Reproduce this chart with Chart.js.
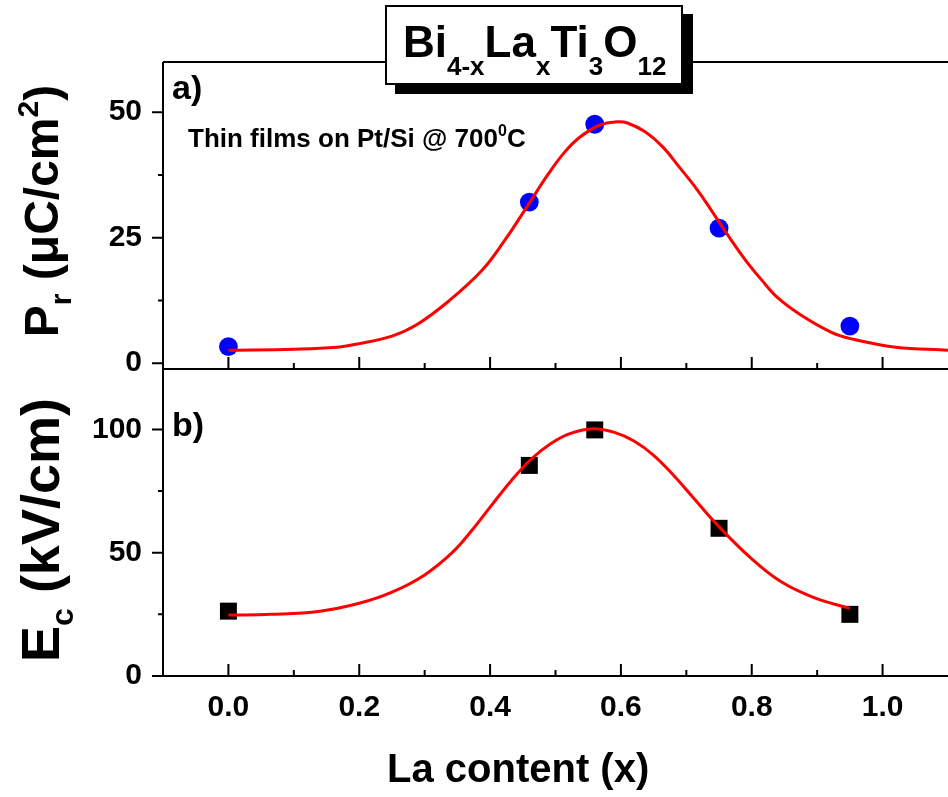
<!DOCTYPE html>
<html>
<head>
<meta charset="utf-8">
<script src="https://cdn.jsdelivr.net/npm/chart.js@4.4.1/dist/chart.umd.min.js"></script>
<style>
  body { margin: 0; background: #fff; }
  #wrap { position: relative; width: 948px; height: 797px; overflow: hidden; background: #fff; }
  #myChart { position: absolute; left: 0; top: 0; }
  .txt { position: absolute; font-family: 'Liberation Sans', Arial, sans-serif; font-weight: bold; color: #000; white-space: nowrap; line-height: 1; }
  .sub { position: relative; }
  #titleBox { position: absolute; left: 385px; top: 5px; width: 294px; height: 76px; border: 2px solid #000; background: #fff; box-shadow: 10px 9px 0 #000; }
  .rot { transform: translate(-50%, -50%) rotate(-90deg); }
</style>
</head>
<body>
<div id="wrap">
  <canvas id="myChart" width="960" height="797"></canvas>
  <div id="titleBox">
    <div class="txt" style="left:16px; top:13px; font-size:44px;">Bi<span class="sub" style="font-size:26px; top:18px;">4-x</span>La<span class="sub" style="font-size:26px; top:18px;">x</span>Ti<span class="sub" style="font-size:26px; top:18px;">3</span>O<span class="sub" style="font-size:26px; top:18px;">12</span></div>
  </div>
  <div class="txt" style="left:172px; top:70px; font-size:34px;">a)</div>
  <div class="txt" style="left:172px; top:407px; font-size:34px;">b)</div>
  <div class="txt" style="left:188px; top:125px; font-size:26px;">Thin films on Pt/Si @ 700<span class="sub" style="font-size:16px; top:-11px;">0</span>C</div>
  <div class="txt rot" style="left:42px; top:211px; font-size:48px;">P<span class="sub" style="font-size:30px; top:13px;">r</span> (μC/cm<span class="sub" style="font-size:30px; top:-20px;">2</span>)</div>
  <div class="txt rot" style="left:40px; top:530px; font-size:54px;">E<span class="sub" style="font-size:32px; top:14px;">c</span> (kV/cm)</div>
  <div class="txt" style="left:387px; top:748px; font-size:40px;">La content (x)</div>
</div>
<script>
// measured points
const laContent = [0, 0.46, 0.56, 0.75, 0.95];
const prValues = [3.3, 32.1, 47.6, 26.9, 7.4];
const ecValues = [26.3, 85.4, 99.8, 59.9, 25.0];

// fitted curves
const prFitX = [0, 0.1, 0.166, 0.2, 0.25, 0.287, 0.337, 0.387, 0.422, 0.46, 0.488, 0.513, 0.538, 0.569, 0.595, 0.609, 0.637, 0.664, 0.689, 0.717, 0.74, 0.765, 0.79, 0.815, 0.84, 0.875, 0.921, 0.951, 1.02, 1.1];
const prFitY = [2.6, 2.8, 3.2, 3.9, 5.4, 7.6, 12.4, 18.4, 24.4, 31.9, 37.5, 41.9, 45.1, 47.5, 48.1, 47.9, 46.1, 43.1, 39.1, 34.5, 30.1, 25.2, 20.6, 16.6, 13.0, 9.6, 6.2, 4.9, 3.2, 2.6];
const ecFitX = [0, 0.065, 0.14, 0.2, 0.25, 0.3, 0.342, 0.372, 0.403, 0.433, 0.463, 0.493, 0.523, 0.558, 0.589, 0.62, 0.65, 0.68, 0.71, 0.75, 0.8, 0.845, 0.895, 0.95];
const ecFitY = [24.7, 25.0, 26.3, 29.5, 34.0, 41.0, 50.0, 59.0, 69.5, 79.4, 88.0, 94.3, 98.4, 100.3, 98.9, 95.3, 89.5, 81.5, 72.5, 60.5, 47.5, 38.2, 31.8, 27.4];

// ticks
const xTicks = [0, 0.2, 0.4, 0.6, 0.8, 1.0];
const xMinor = [0.1, 0.3, 0.5, 0.7, 0.9];
const prTicks = [0, 25, 50];
const prMinor = [12.5, 37.5];
const ecTicks = [0, 50, 100];
const ecMinor = [25, 75];

const pts = (xs, ys) => xs.map((x, i) => ({x: x, y: ys[i]}));
const tickFont = {family: 'Liberation Sans', size: 30, weight: 'bold'};

const frame = {
    id: 'frame',
    afterDraw(chart) {
        const {ctx, chartArea: a, scales: {x, yPr, yEc}} = chart;
        const mid = Math.min(yPr.bottom, yEc.bottom);
        ctx.save();
        ctx.strokeStyle = '#000';
        ctx.lineWidth = 2;
        ctx.beginPath();
        ctx.moveTo(a.left, a.top); ctx.lineTo(a.left, a.bottom);
        ctx.moveTo(a.left, a.top); ctx.lineTo(a.right, a.top);
        ctx.moveTo(a.left, mid); ctx.lineTo(a.right, mid);
        ctx.moveTo(a.left, a.bottom); ctx.lineTo(a.right, a.bottom);
        [mid, a.bottom].forEach(base => {
            xTicks.forEach(v => { const p = x.getPixelForValue(v); ctx.moveTo(p, base); ctx.lineTo(p, base - 12); });
            xMinor.forEach(v => { const p = x.getPixelForValue(v); ctx.moveTo(p, base); ctx.lineTo(p, base - 6); });
        });
        [[yPr, prTicks, prMinor], [yEc, ecTicks, ecMinor]].forEach(([s, major, minor]) => {
            major.forEach(v => { const p = s.getPixelForValue(v); ctx.moveTo(a.left, p); ctx.lineTo(a.left - 11, p); });
            minor.forEach(v => { const p = s.getPixelForValue(v); ctx.moveTo(a.left, p); ctx.lineTo(a.left - 5, p); });
        });
        ctx.stroke();
        ctx.restore();
    }
};

const ctx = document.getElementById('myChart').getContext('2d');
const myChart = new Chart(ctx, {
    type: 'line',
    data: {
        datasets: [
            {
                data: pts(prFitX, prFitY), yAxisID: 'yPr',
                borderColor: '#ff0000', borderWidth: 3, pointRadius: 0,
                tension: 0.4, fill: false
            },
            {
                data: pts(ecFitX, ecFitY), yAxisID: 'yEc',
                borderColor: '#ff0000', borderWidth: 3, pointRadius: 0,
                tension: 0.4, fill: false
            },
            {
                data: pts(laContent, prValues), yAxisID: 'yPr', showLine: false,
                pointStyle: 'circle', pointRadius: 9.4, pointBorderWidth: 0,
                pointBackgroundColor: '#0000ff', borderColor: '#0000ff'
            },
            {
                data: pts(laContent, ecValues), yAxisID: 'yEc', showLine: false,
                pointStyle: 'rect', pointRadius: 12, pointBorderWidth: 0,
                pointBackgroundColor: '#000', borderColor: '#000'
            }
        ]
    },
    options: {
        responsive: false,
        animation: false,
        layout: {padding: {left: 0, right: 1, top: 62, bottom: 0}},
        plugins: {legend: {display: false}, tooltip: {enabled: false}},
        scales: {
            x: {
                type: 'linear', min: -0.1, max: 1.1,
                grid: {display: false}, border: {display: false},
                afterBuildTicks: s => { s.ticks = xTicks.map(v => ({value: v})); },
                afterFit: s => { s.height = 121; },
                ticks: {font: tickFont, color: '#000', padding: 6, maxRotation: 0, callback: v => v.toFixed(1)}
            },
            // bottom panel is listed first: the stack is built from the bottom up
            yEc: {
                type: 'linear', position: 'left', stack: 'panels', stackWeight: 1,
                min: 0, max: 124.5,
                grid: {display: false, drawTicks: false}, border: {display: false},
                afterBuildTicks: s => { s.ticks = ecTicks.map(v => ({value: v})); },
                afterFit: s => { s.width = 163; },
                ticks: {font: tickFont, color: '#000', padding: 21, callback: v => String(v)}
            },
            yPr: {
                type: 'linear', position: 'left', stack: 'panels', stackWeight: 1,
                min: -1.15, max: 60,
                grid: {display: false, drawTicks: false}, border: {display: false},
                afterBuildTicks: s => { s.ticks = prTicks.map(v => ({value: v})); },
                afterFit: s => { s.width = 163; },
                ticks: {font: tickFont, color: '#000', padding: 21, callback: v => String(v)}
            }
        }
    },
    plugins: [frame]
});
</script>
</body>
</html>
